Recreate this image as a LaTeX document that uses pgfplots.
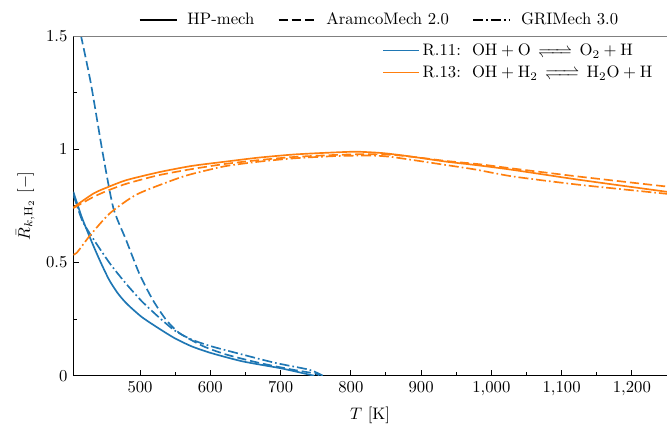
\documentclass[border=0pt]{standalone}
\usepackage{pgfplots}
\pgfplotsset{compat=1.18}
\usepackage{amsmath,amssymb,mathtools}
\usetikzlibrary{calc}
\definecolor{tabblue}{HTML}{1F77B4}
\definecolor{taborange}{HTML}{FF7F0E}
\definecolor{spinegray}{HTML}{808080}

\tikzset{
  dashedmpl/.style={dash pattern=on 5.5pt off 2.4pt},
  dashdotmpl/.style={dash pattern=on 6pt off 1.8pt on 1pt off 1.8pt},
}
\newcommand{\eqarr}{\mathrel{\,\xrightleftharpoons{\hspace{14pt}}\,}}

\begin{document}
\begin{tikzpicture}
\begin{axis}[name=main,scale only axis,width=356.2pt,height=203.8pt,
  xmin=405,xmax=1250,ymin=0,ymax=1.5,
  axis x line*=bottom,axis y line*=left,axis line style={-,black,line width=0.7pt},
  xtick={500,600,...,1200},ytick={0,0.5,1,1.5},
  minor x tick num=1,minor y tick num=1,
  tick align=inside,major tick length=3.5pt,minor tick length=2pt,
  tick style={black,line width=0.6pt},
  x tick label style={/pgf/number format/1000 sep={\mathord{,}}},
  xlabel={$T$ [K]},ylabel={$\bar{R}_{k,\mathrm{H_2}}$ $[-]$},
  legend style={draw=none,fill=none,at={(0.99,1.0)},anchor=north east,
    row sep=0pt,font=\normalsize},
  legend cell align=left,
  legend image code/.code={\draw[#1,line width=1pt] (0cm,0cm) -- (0.74cm,0cm);},
  every axis plot/.append style={line width=1pt,line join=round,smooth,tension=0.4},
  clip=true]
\addlegendimage{tabblue,line width=1pt}
\addlegendimage{taborange,line width=1pt}
% R.11 HP-mech
\addplot[tabblue,forget plot] coordinates {(405,0.812) (417,0.70) (432,0.585) (444,0.50) (456,0.423) (468,0.365) (481,0.318) (502,0.26) (526,0.21) (549,0.166) (573,0.13) (601,0.10) (646,0.063) (698,0.034) (722,0.018) (743,0.003) (748,0.0)};
% R.11 AramcoMech
\addplot[tabblue,dashedmpl,forget plot] coordinates {(412,1.56) (416,1.50) (430,1.29) (447,0.98) (462,0.74) (480,0.60) (499,0.45) (518,0.335) (537,0.247) (556,0.188) (590,0.13) (623,0.093) (670,0.056) (718,0.026) (750,0.009) (755,0.0)};
% R.11 GRIMech
\addplot[tabblue,dashdotmpl,forget plot] coordinates {(405,0.80) (417,0.69) (429,0.625) (456,0.50) (479,0.41) (502,0.33) (526,0.26) (549,0.20) (573,0.16) (601,0.13) (646,0.093) (693,0.056) (741,0.026) (760,0.0)};
% R.13 HP-mech
\addplot[taborange,forget plot] coordinates {(405,0.743) (434,0.805) (456,0.835) (481,0.864) (526,0.898) (573,0.926) (621,0.945) (669,0.963) (720,0.977) (770,0.985) (808,0.989) (845,0.983) (880,0.970) (936,0.945) (978,0.93) (1030,0.909) (1125,0.865) (1250,0.812)};
% R.13 AramcoMech
\addplot[taborange,dashedmpl,forget plot] coordinates {(405,0.74) (434,0.79) (456,0.82) (481,0.848) (526,0.885) (573,0.912) (621,0.935) (669,0.952) (720,0.966) (780,0.975) (820,0.978) (860,0.975) (900,0.962) (936,0.948) (985,0.933) (1030,0.915) (1125,0.879) (1250,0.835)};
% R.13 GRIMech
\addplot[taborange,dashdotmpl,forget plot] coordinates {(405,0.535) (410,0.543) (429,0.62) (457,0.717) (495,0.80) (547,0.864) (573,0.89) (621,0.925) (669,0.945) (720,0.96) (780,0.97) (830,0.972) (860,0.965) (936,0.93) (978,0.91) (1030,0.88) (1125,0.843) (1250,0.803)};
\legend{R.11:\ \ $\mathrm{OH}+\mathrm{O}\eqarr\mathrm{O_2}+\mathrm{H}$,
        R.13:\ \ $\mathrm{OH}+\mathrm{H_2}\eqarr\mathrm{H_2O}+\mathrm{H}$}
\draw[spinegray,line width=0.8pt] (rel axis cs:0,1) -- (rel axis cs:1,1);
\end{axis}
\begin{axis}[at={(main.south west)},anchor=south west,scale only axis,
  width=356.2pt,height=203.8pt,hide axis,xmin=0,xmax=1,ymin=0,ymax=1,
  legend style={draw=none,fill=none,at={(0.5,1)},anchor=south,yshift=1pt,xshift=6pt},
  legend columns=3,
  legend image code/.code={\draw[#1,line width=1pt] (0cm,0cm) -- (0.78cm,0cm);}]
\addlegendimage{black}
\addlegendimage{black,dashedmpl}
\addlegendimage{black,dashdotmpl}
\legend{\rule{4pt}{0pt}HP-mech\rule{12pt}{0pt},\rule{4pt}{0pt}AramcoMech 2.0\rule{12pt}{0pt},\rule{4pt}{0pt}GRIMech 3.0}
\end{axis}
\pgfresetboundingbox
\path ($(main.south west)+(-44pt,-29.6pt)$) rectangle ($(main.north east)+(0pt,21.6pt)$);
\end{tikzpicture}
\end{document}
